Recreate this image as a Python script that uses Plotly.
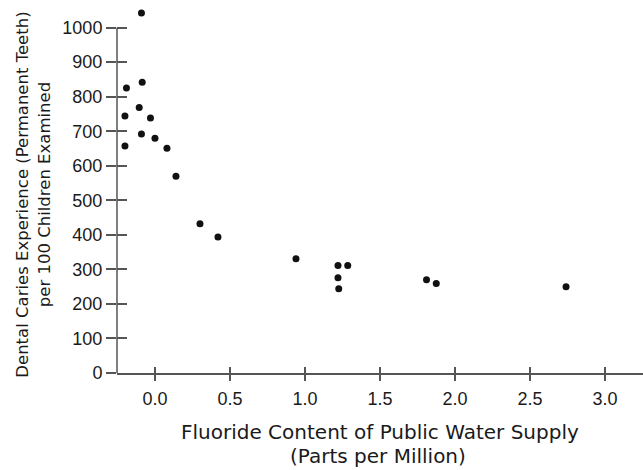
import plotly.graph_objects as go

# Fluoride content (ppm) and caries experience per 100 children
fluoride = [-0.09, -0.085, -0.19, -0.105, -0.20, -0.03, -0.09, 0.00, -0.20, 0.08, 0.14,
            0.30, 0.42, 0.94, 1.22, 1.285, 1.22, 1.225, 1.81, 1.875, 2.74]
caries = [1042, 842, 825, 769, 744, 738, 692, 680, 657, 651, 570,
          432, 394, 331, 311, 311, 276, 244, 270, 259, 250]

x_ticks = [0.0, 0.5, 1.0, 1.5, 2.0, 2.5, 3.0]
x_tick_text = ["0.0", "0.5", "1.0", "1.5", "2.0", "2.5", "3.0"]
y_ticks = [0, 100, 200, 300, 400, 500, 600, 700, 800, 900, 1000]

x_title = ["Fluoride Content of Public Water Supply", "(Parts per Million)"]
y_title = "Dental Caries Experience (Permanent Teeth)<br>per 100 Children Examined"

FONT = "Liberation Sans, Arial, sans-serif"
TFONT = "DejaVu Sans, sans-serif"
TXT = "#1a1a1a"
AX = "#555555"
xr = [-0.253, 3.253]
yr = [0, 1080]

fig = go.Figure()
fig.add_trace(go.Scatter(x=fluoride, y=caries, mode="markers",
                         marker=dict(size=7, color="#111111"),
                         cliponaxis=False, showlegend=False))
# dummy trace to create overlay axes for crossing tick marks
fig.add_trace(go.Scatter(x=[None], y=[None], xaxis="x2", yaxis="y2",
                         showlegend=False, hoverinfo="skip"))

fig.update_layout(
    width=643, height=470,
    margin=dict(l=117, r=0, t=0, b=97),
    paper_bgcolor="white", plot_bgcolor="white",
    font=dict(family=FONT, color=TXT),
    xaxis=dict(range=xr, tickvals=x_ticks, ticktext=x_tick_text,
               showgrid=False, zeroline=False, showline=True,
               linecolor=AX, linewidth=1.5, ticks="outside", ticklen=6,
               tickcolor=AX, tickwidth=1.5, ticklabelstandoff=3,
               tickfont=dict(size=18, color=TXT)),
    yaxis=dict(range=yr, tickvals=y_ticks,
               showgrid=False, zeroline=False, showline=False,
               ticks="outside", ticklen=10,
               tickcolor=AX, tickwidth=1.5, tickfont=dict(size=18, color=TXT)),
    xaxis2=dict(range=xr, tickvals=x_ticks, overlaying="x", anchor="y2",
                showticklabels=False, showgrid=False, zeroline=False,
                showline=False, ticks="inside", ticklen=6, tickcolor=AX,
                tickwidth=1.5, side="bottom"),
    yaxis2=dict(range=yr, tickvals=y_ticks, overlaying="y", anchor="x2",
                showticklabels=False, showgrid=False, zeroline=False,
                showline=False, ticks="inside", ticklen=10, tickcolor=AX,
                tickwidth=1.5, side="left"),
    shapes=[dict(type="line", xref="paper", yref="y", x0=0, x1=0,
                 y0=yr[0], y1=y_ticks[-1], line=dict(color=AX, width=1.5))],
    annotations=[
        dict(text=x_title[0], xref="paper", yref="paper", x=0.5, y=-0.158,
             xanchor="center", yanchor="middle", showarrow=False,
             font=dict(family=TFONT, size=20, color=TXT)),
        dict(text=x_title[1], xref="paper", yref="paper", x=0.497, y=-0.222,
             xanchor="center", yanchor="middle", showarrow=False,
             font=dict(family=TFONT, size=20, color=TXT)),
        dict(text=y_title, xref="paper", yref="paper", x=-0.1597, y=0.478,
             xanchor="center", yanchor="middle", textangle=-90, showarrow=False,
             font=dict(family=TFONT, size=16.5, color=TXT)),
    ],
)

fig.write_html("out.html")
